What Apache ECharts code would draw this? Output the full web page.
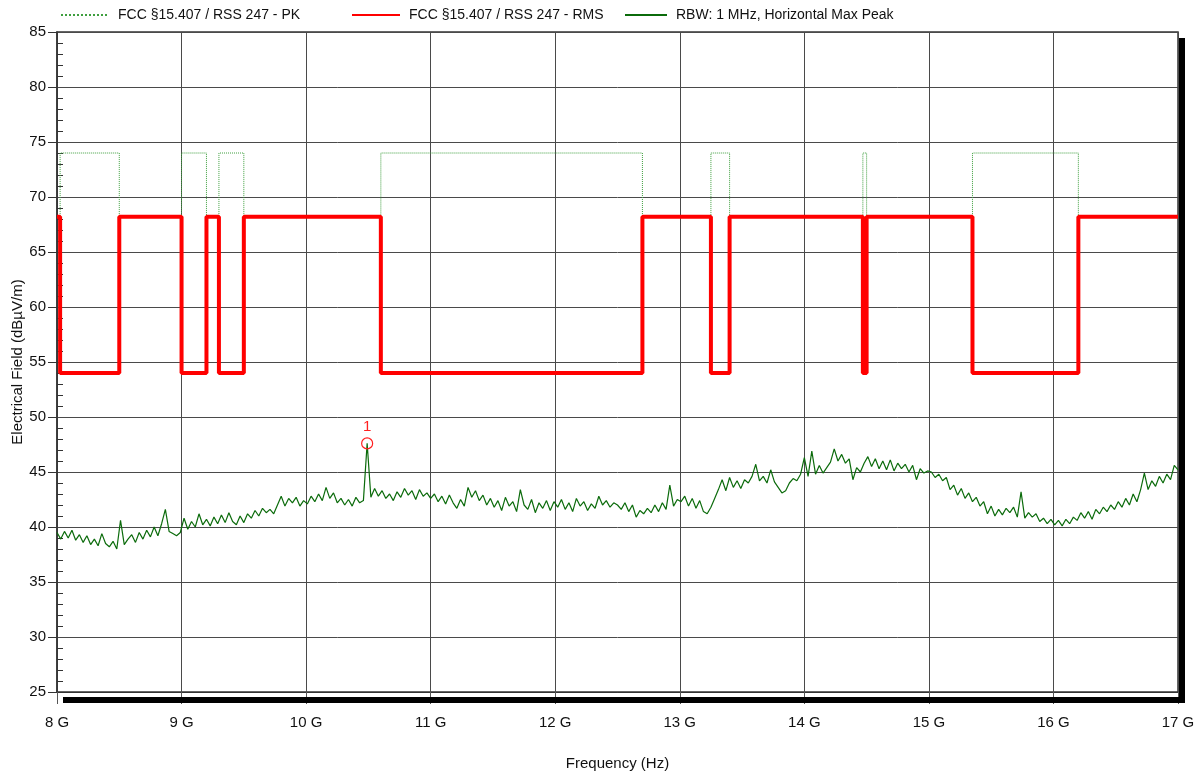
<!DOCTYPE html>
<html>
<head>
<meta charset="utf-8">
<title>Radiated emissions 8-17 GHz</title>
<script src="https://cdn.jsdelivr.net/npm/echarts@6.0.0/dist/echarts.min.js"></script>
<style>
  html, body { margin: 0; padding: 0; background: #fff; }
  #main { width: 1204px; height: 774px; }
</style>
</head>
<body>
<div id="main"></div>
<script>
// limit lines: band edges (GHz) and the level of each band
var limitEdges = [8.0, 8.025, 8.5, 9.0, 9.2, 9.3, 9.5, 10.6, 12.7, 13.25, 13.4, 14.47, 14.5, 15.35, 16.2, 17.0];
var rmsLevels = [68.2, 54, 68.2, 54, 68.2, 54, 68.2, 54, 68.2, 54, 68.2, 54, 68.2, 54, 68.2];
var pkLevels  = [68.2, 74, 68.2, 74, 68.2, 74, 68.2, 74, 68.2, 74, 68.2, 74, 68.2, 74, 68.2];

var traceStart = 8.0;
var traceStep = 0.03;
var traceLevels = [
  // 8.00 - 8.99
  39.5, 38.9, 39.6, 39.0, 39.7, 38.8, 39.3, 38.6, 39.2, 38.4, 38.9, 38.3, 39.4, 38.5, 38.2, 38.7, 38.0,
  40.6, 38.4, 38.9, 39.3, 38.6, 39.5, 38.9, 39.7, 39.1, 40.0, 39.2, 40.3, 41.6, 39.6, 39.4, 39.2, 39.5,
  // 9.02 - 9.98
  40.8, 39.8, 40.5, 40.0, 41.2, 40.2, 40.7, 40.1, 40.9, 40.3, 41.1, 40.4, 41.3, 40.5, 40.2, 41.0, 40.4,
  41.2, 40.8, 41.5, 41.0, 41.7, 41.3, 41.6, 41.2, 42.0, 42.8, 41.9, 42.6, 42.2, 42.7, 41.9, 42.4,
  // 10.01 - 10.97
  42.1, 42.8, 42.3, 43.0, 42.4, 43.6, 42.6, 43.1, 42.2, 42.6, 42.0, 42.5, 41.9, 42.7, 42.2, 42.4, 47.6,
  42.7, 43.5, 42.8, 43.3, 42.6, 43.0, 42.4, 43.2, 42.7, 43.5, 42.9, 43.3, 42.5, 43.4, 42.8, 43.1,
  // 11.00 - 11.99
  42.6, 43.0, 42.3, 42.8, 42.1, 42.9, 42.2, 41.7, 42.5, 41.9, 43.6, 42.7, 43.3, 42.4, 42.9, 42.0, 42.6,
  41.8, 42.4, 41.5, 42.7, 41.9, 42.3, 41.4, 43.4, 42.0, 41.6, 42.5, 41.3, 42.2, 41.7, 42.4, 41.5, 42.3,
  // 12.02 - 12.98
  41.8, 42.5, 41.6, 42.2, 41.4, 42.6, 41.9, 42.3, 41.5, 42.1, 41.7, 42.8, 42.0, 42.4, 41.8, 42.2, 42.0,
  41.6, 42.2, 41.4, 42.0, 40.9, 41.5, 41.2, 41.7, 41.3, 42.0, 41.4, 42.2, 41.6, 43.8, 41.9, 42.5,
  // 13.01 - 13.97
  42.3, 42.8, 41.9, 42.6, 41.7, 42.4, 41.4, 41.2, 41.8, 42.6, 43.4, 44.3, 43.3, 44.5, 43.6, 44.2, 43.5,
  44.3, 44.0, 44.6, 45.7, 44.2, 44.6, 44.0, 45.2, 44.1, 43.6, 43.1, 43.3, 44.0, 44.4, 44.2, 44.8,
  // 14.00 - 14.99
  46.3, 44.6, 46.9, 44.8, 45.6, 44.9, 45.4, 45.9, 47.1, 46.0, 46.6, 45.8, 46.2, 44.3, 45.4, 45.0, 45.8,
  46.4, 45.5, 46.2, 45.3, 46.0, 45.2, 46.1, 45.1, 45.8, 45.3, 45.7, 45.0, 45.6, 44.3, 45.3, 44.9, 45.1,
  // 15.02 - 15.98
  45.0, 44.5, 44.8, 44.2, 44.5, 43.4, 43.8, 42.9, 43.5, 42.6, 43.1, 42.3, 42.7, 41.9, 42.3, 41.2, 41.9,
  41.0, 41.6, 41.1, 41.7, 41.3, 41.8, 40.9, 43.2, 40.8, 41.3, 40.9, 41.2, 40.5, 40.8, 40.3, 40.7,
  // 16.01 - 17.00
  40.2, 40.6, 40.1, 40.7, 40.3, 40.9, 40.6, 41.3, 40.8, 41.4, 40.7, 41.6, 41.2, 41.8, 41.4, 42.0, 41.6,
  42.3, 41.8, 42.6, 42.0, 43.0, 42.3, 43.4, 44.9, 43.4, 44.2, 43.7, 44.6, 44.0, 44.8, 44.3, 45.6, 45.2
];

// marker 1
var markerFreq = 10.49;
var markerLevel = 47.6;

var seriesNames = ['FCC §15.407 / RSS 247 - PK', 'FCC §15.407 / RSS 247 - RMS', 'RBW: 1 MHz, Horizontal Max Peak'];

function stepLine(levels) {
  var pts = [];
  for (var i = 0; i < levels.length; i++) {
    pts.push([limitEdges[i], levels[i]]);
    pts.push([limitEdges[i + 1], levels[i]]);
  }
  return pts;
}

var traceData = [];
for (var i = 0; i < traceLevels.length; i++) {
  traceData.push([+(traceStart + i * traceStep).toFixed(2), traceLevels[i]]);
}

var FONT = 'Liberation Sans, Arial, sans-serif';
var gridColor = '#4a4a4a';

function legendBox(name, left, w) {
  return {
    data: [name], left: left, top: 8, padding: 0, itemWidth: w, itemHeight: 14, itemGap: 0,
    itemStyle: { opacity: 0 },
    textStyle: { fontSize: 14, color: '#111', fontFamily: FONT, padding: [0, 0, 0, 4] }
  };
}

var myChart = echarts.init(document.getElementById('main'), null, { renderer: 'canvas' });
var option = {
  backgroundColor: '#ffffff',
  animation: false,
  textStyle: { fontFamily: FONT },
  legend: [
    legendBox(seriesNames[0], 60, 48),
    legendBox(seriesNames[1], 351, 48),
    legendBox(seriesNames[2], 624, 42)
  ],
  grid: {
    left: 57, right: 26, top: 32, bottom: 82,
    outerBoundsMode: 'none',
    show: true, borderColor: '#333', borderWidth: 1.5, backgroundColor: 'transparent'
  },
  xAxis: {
    type: 'value', min: 8, max: 17, interval: 1,
    name: 'Frequency (Hz)', nameLocation: 'middle', nameGap: 64,
    nameTextStyle: { fontSize: 15, color: '#111', fontFamily: FONT },
    axisLine: { show: true, lineStyle: { color: '#333', width: 1 } },
    axisTick: { show: true, length: 12, lineStyle: { color: '#555' } },
    axisLabel: { fontSize: 15, color: '#111', margin: 23, fontFamily: FONT,
      formatter: function (v) { return v + ' G'; } },
    splitLine: { show: true, lineStyle: { color: gridColor, width: 1 } }
  },
  yAxis: [{
    type: 'value', min: 25, max: 85, interval: 5, position: 'left',
    name: 'Electrical Field (dBµV/m)', nameLocation: 'middle', nameGap: 32,
    nameMoveOverlap: false,
    nameTextStyle: { fontSize: 15, color: '#111', fontFamily: FONT },
    axisLine: { show: true, lineStyle: { color: '#333', width: 1.5 } },
    axisTick: { show: true, length: 9, lineStyle: { color: '#333' } },
    axisLabel: { fontSize: 15, color: '#111', margin: 11, fontFamily: FONT },
    splitLine: { show: true, lineStyle: { color: gridColor, width: 1 } }
  }, {
    type: 'value', min: 25, max: 85, interval: 5, position: 'left',
    axisLine: { show: false },
    axisTick: { show: false, inside: true },
    axisLabel: { show: false },
    splitLine: { show: false },
    minorTick: { show: true, splitNumber: 5, length: 6, lineStyle: { color: '#333', width: 1 } }
  }],
  graphic: [
    { type: 'rect', z: 100, shape: { x: 63, y: 697, width: 1122, height: 6 }, style: { fill: '#000' } },
    { type: 'rect', z: 100, shape: { x: 1179, y: 38, width: 6, height: 665 }, style: { fill: '#000' } }
  ],
  series: [
    {
      name: seriesNames[2], type: 'line', symbol: 'none', z: 2,
      data: traceData,
      lineStyle: { color: '#0b6b0b', width: 1.2 },
      itemStyle: { color: '#0b6b0b' },
      markPoint: {
        symbol: 'circle', symbolSize: 11,
        itemStyle: { color: 'rgba(255,255,255,0)', borderColor: '#ff2020', borderWidth: 1.2, opacity: 1 },
        label: { show: true, position: 'top', distance: 3, formatter: '1', color: '#ff2020', fontSize: 15, fontFamily: FONT },
        data: [{ coord: [markerFreq, markerLevel] }]
      }
    },
    {
      name: seriesNames[0], type: 'line', symbol: 'none', z: 3,
      data: stepLine(pkLevels),
      lineStyle: { color: '#3f9f3f', width: 1, type: 'dotted' },
      itemStyle: { color: '#3f9f3f' }
    },
    {
      name: seriesNames[1], type: 'line', symbol: 'none', z: 4,
      data: stepLine(rmsLevels),
      lineStyle: { color: '#ff0000', width: 4 },
      itemStyle: { color: '#ff0000' }
    }
  ]
};
myChart.setOption(option);
</script>
</body>
</html>
